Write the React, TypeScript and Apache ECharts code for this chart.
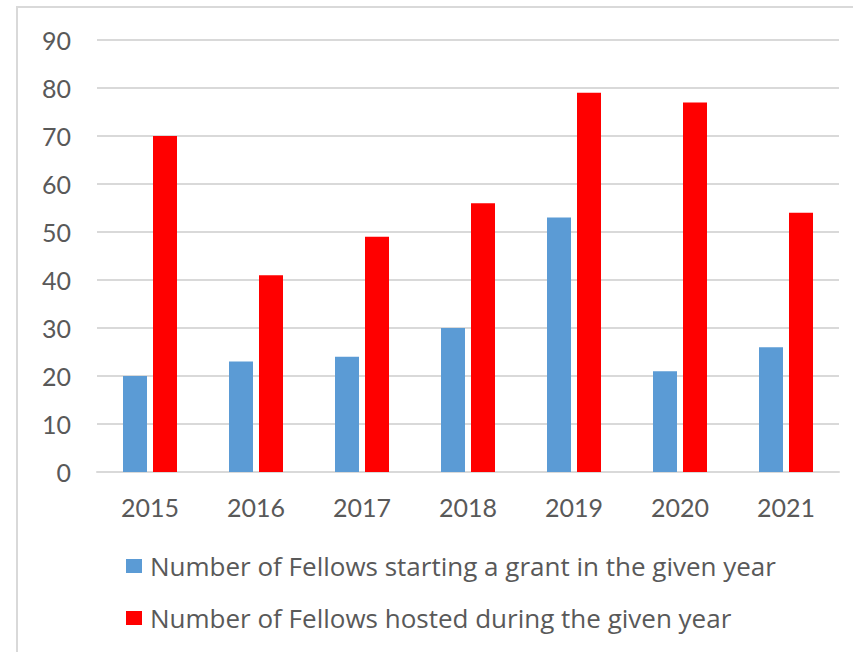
import React, { useEffect, useRef } from "react";
import * as echarts from "echarts";

const years = ["2015", "2016", "2017", "2018", "2019", "2020", "2021"];
const startingGrant = [20, 23, 24, 30, 53, 21, 26];
const hostedDuring = [70, 41, 49, 56, 79, 77, 54];
const seriesNames = [
  "Number of Fellows starting a grant in the given year",
  "Number of Fellows hosted during the given year",
];

const FONT = "Lato, 'Open Sans', sans-serif";
const LEGEND_FONT = "'Open Sans', Lato, sans-serif";
const TEXT = "#595959";
const GRID = "#D9D9D9";

export default function App() {
  const ref = useRef<HTMLDivElement>(null);
  useEffect(() => {
    if (!ref.current) return;
    const chart = echarts.init(ref.current, undefined, { renderer: "svg" });
    chart.setOption({
      animation: false,
      backgroundColor: "#ffffff",
      graphic: [
        {
          type: "rect",
          shape: { x: 17, y: 7, width: 900, height: 700 },
          style: { fill: "none", stroke: GRID, lineWidth: 2 },
          silent: true,
        },
      ],
      grid: { left: 97, right: 14, top: 40, bottom: 180, containLabel: false },
      legend: {
        orient: "vertical",
        left: 126,
        top: 552,
        padding: 0,
        itemWidth: 16,
        itemHeight: 14,
        itemGap: 24,
        icon: "rect",
        textStyle: { fontFamily: LEGEND_FONT, fontSize: 26, color: TEXT, lineHeight: 28, padding: [0, 0, 0, 3] },
        data: seriesNames,
      },
      xAxis: {
        type: "category",
        data: years,
        axisLine: { lineStyle: { color: GRID, width: 2 } },
        axisTick: { show: false },
        axisLabel: { fontFamily: FONT, fontSize: 25, color: TEXT, margin: 22 },
      },
      yAxis: {
        type: "value",
        min: 0,
        max: 90,
        interval: 10,
        axisLine: { show: false },
        axisTick: { show: false },
        splitLine: { lineStyle: { color: GRID, width: 2 } },
        axisLabel: { fontFamily: FONT, fontSize: 25, color: TEXT, margin: 26 },
      },
      series: [
        {
          name: seriesNames[0],
          type: "bar",
          data: startingGrant,
          barWidth: 24,
          barGap: "25%",
          itemStyle: { color: "#5B9BD5" },
        },
        {
          name: seriesNames[1],
          type: "bar",
          data: hostedDuring,
          barWidth: 24,
          barGap: "25%",
          itemStyle: { color: "#FF0000" },
        },
      ],
    });
    return () => chart.dispose();
  }, []);
  return <div ref={ref} style={{ width: 853, height: 652, position: "absolute", left: 0, top: 0 }} />;
}
